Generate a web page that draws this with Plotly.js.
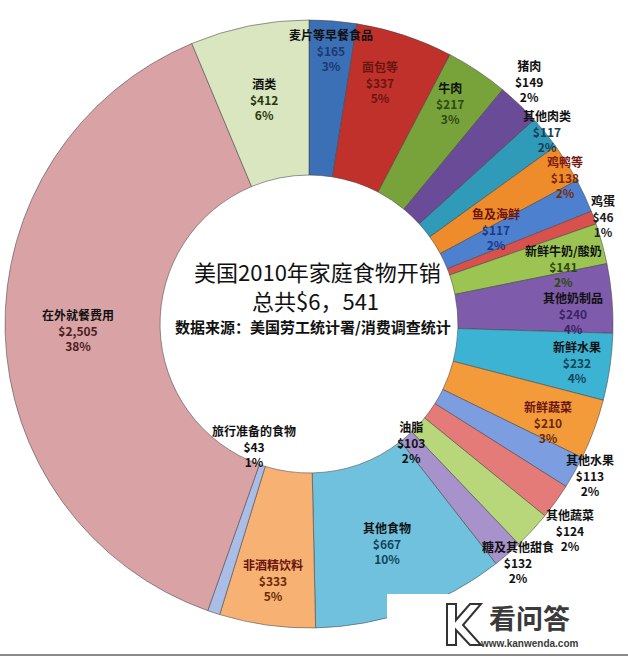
<!DOCTYPE html>
<html>
<head>
<meta charset="utf-8">
<script src="https://cdn.plot.ly/plotly-3.0.1.min.js"></script>
<style>html,body{margin:0;padding:0;background:#fff;}#chart{width:628px;height:657px;}</style>
</head>
<body>
<div id="chart"></div>
<script>
// ---- data ----
const categories = ["麦片等早餐食品","面包等","牛肉","猪肉","其他肉类","鸡鸭等","鱼及海鲜","鸡蛋","新鲜牛奶/酸奶","其他奶制品","新鲜水果","新鲜蔬菜","其他水果","其他蔬菜","糖及其他甜食","油脂","其他食物","非酒精饮料","旅行准备的食物","在外就餐费用","酒类"];
const values = [165,337,217,149,117,138,117,46,141,240,232,210,113,124,132,103,667,333,43,2505,412];
const valueLabels = ["$165","$337","$217","$149","$117","$138","$117","$46","$141","$240","$232","$210","$113","$124","$132","$103","$667","$333","$43","$2,505","$412"];
const percentLabels = ["3%","5%","3%","2%","2%","2%","2%","1%","2%","4%","4%","3%","2%","2%","2%","2%","10%","5%","1%","38%","6%"];
const titleLines = ["美国2010年家庭食物开销","总共$6，541","数据来源：美国劳工统计署/消费调查统计"];

// ---- styles ----
const sliceColors = ["#3b6fb6","#c0312c","#78a33b","#6a4b98","#2f9bb9","#ee8b2b","#4d80cf","#d9514d","#9bc453","#7e5bab","#3cb3d3","#f39a3b","#7c9ee0","#e47b79","#b8d77b","#a792cc","#70c1dd","#f7b172","#aabde6","#d9a3a6","#d9e6c0"];
const nameColors = ["#111","#6a1510","#111","#111","#111","#7a1a10","#6a1510","#111","#111","#111","#111","#6a1510","#111","#111","#111","#111","#111","#6a1510","#111","#111","#111"];
const valueColors = ["#1c3a6e","#6a1512","#2d4a12","#111","#163e58","#7a2a08","#1c3a8a","#222","#2d4a12","#3b2366","#12455a","#6a2a08","#111","#111","#111","#111","#12455a","#6a2a08","#111","#4a2020","#2a3a10"];
// label placement: radius in px from centre, angle nudge in degrees
const labelRadius = [275,252,262,328,306,295,210,313,261,264,271,258,319,333,317,156,232,258,134,231,229];
const labelNudge = [0,-2,-1,-1.5,0,2,-2,0.3,2.6,2.5,0,2,-1,2.6,6,0,0,0,6,0,0];

const W = 628, H = 657;
const cx = 309, cy = 324;           // pie centre in px
const domX = [5/W, 613/W];
const domY = [1-630/H, 1-18/H];

const total = values.reduce((a,b)=>a+b,0);
const annotations = [];
let cum = 0;
values.forEach((v,i)=>{
  const mid = (cum + v/2)/total;
  cum += v;
  const ang = (mid*360 + labelNudge[i]) * Math.PI/180;
  const px = cx + labelRadius[i]*Math.sin(ang);
  const py = cy - labelRadius[i]*Math.cos(ang);
  annotations.push({
    x: px/W, y: 1-py/H, xref:'paper', yref:'paper', showarrow:false,
    xanchor:'center', yanchor:'middle', align:'center',
    text: '<span style="color:'+nameColors[i]+'"><b>'+categories[i]+'</b></span><br><span style="color:'+valueColors[i]+'"><b>'+valueLabels[i]+'</b><br><b>'+percentLabels[i]+'</b></span>',
    font:{family:'"Noto Sans CJK SC", "Liberation Sans", sans-serif', size:12, color:'#111'}
  });
});

// centre texts
const ctr = {xref:'paper', yref:'paper', showarrow:false, xanchor:'center', yanchor:'middle'};
annotations.push(Object.assign({x:317/W, y:1-271/H, text:titleLines[0],
  font:{family:'"Noto Sans CJK SC", sans-serif', size:22, color:'#111'}}, ctr));
annotations.push(Object.assign({x:315/W, y:1-300/H, text:titleLines[1],
  font:{family:'"Noto Sans CJK SC", sans-serif', size:22, color:'#111'}}, ctr));
annotations.push(Object.assign({x:313/W, y:1-327/H, text:'<b>'+titleLines[2]+'</b>',
  font:{family:'"Noto Sans CJK SC", sans-serif', size:15, color:'#111'}}, ctr));

// watermark
annotations.push(Object.assign({x:529/W, y:1-617/H, text:'<b>看问答</b>',
  font:{family:'"Noto Sans CJK SC", sans-serif', size:27, color:'#3a3a3a'}}, ctr));
annotations.push(Object.assign({x:529/W, y:1-643/H, text:'<b>www.kanwenda.com</b>',
  font:{family:'"Liberation Sans", sans-serif', size:10, color:'#3a3a3a'}}, ctr));

function P(x,y){ return (x/W)+','+(1-y/H); }
const shapes = [
  {type:'rect', xref:'paper', yref:'paper', x0:387/W, x1:1, y0:1-652/H, y1:1-594/H, fillcolor:'#ffffff', line:{width:0}, layer:'above'},
  {type:'path', xref:'paper', yref:'paper', layer:'above',
   path:'M '+P(447,604)+' L '+P(456,604)+' L '+P(456,620)+' L '+P(470,604)+' L '+P(481,604)+' L '+P(463,625)+' L '+P(481,645)+' L '+P(470,645)+' L '+P(456,630)+' L '+P(456,645)+' L '+P(447,645)+' Z',
   fillcolor:'#ffffff', line:{color:'#333', width:2}},
  {type:'line', xref:'paper', yref:'paper', x0:0, x1:1, y0:1-655/H, y1:1-655/H, line:{color:'#8a8a8a', width:2}}
];

const trace = {
  type:'pie', labels:categories, values:values, sort:false, direction:'clockwise', rotation:0,
  hole:0.49, textinfo:'none', hoverinfo:'label+value+percent',
  marker:{colors:sliceColors, line:{color:'rgba(70,70,70,0.55)', width:1}},
  domain:{x:domX, y:domY}, showlegend:false
};

Plotly.newPlot('chart', [trace], {
  width:W, height:H, margin:{l:0,r:0,t:0,b:0},
  paper_bgcolor:'#ffffff', plot_bgcolor:'#ffffff',
  showlegend:false, annotations:annotations, shapes:shapes
}, {displayModeBar:false, staticPlot:true});
</script>
</body>
</html>
